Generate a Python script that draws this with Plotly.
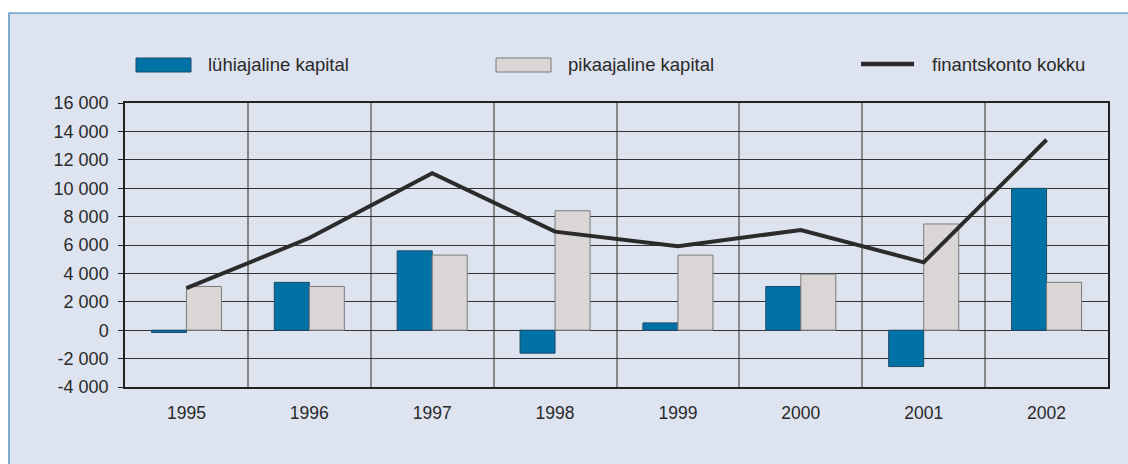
import plotly.graph_objects as go

years = ["1995", "1996", "1997", "1998", "1999", "2000", "2001", "2002"]
luhiajaline = [-160, 3370, 5590, -1620, 515, 3080, -2560, 9990]
pikaajaline = [3080, 3080, 5290, 8410, 5290, 3950, 7480, 3370]
finantskonto = [2960, 6490, 11060, 6940, 5910, 7060, 4780, 13410]

series_names = ["lühiajaline kapital", "pikaajaline kapital", "finantskonto kokku"]
y_tickvals = [-4000, -2000, 0, 2000, 4000, 6000, 8000, 10000, 12000, 14000, 16000]
y_ticktext = ["-4 000", "-2 000", "0", "2 000", "4 000", "6 000", "8 000",
              "10 000", "12 000", "14 000", "16 000"]

W, H = 1128, 464
ML, MR, MT, MB = 125, 20, 103, 77
PW, PH = W - ML - MR, H - MT - MB

def px(x):
    return (x - ML) / PW

def py(y):
    return (H - MB - y) / PH

BLUE = "#0072a6"
BLUE_EDGE = "#1d4d6b"
GREY = "#dad6d5"
GREY_EDGE = "#7a7a7a"
LINE = "#2b2b2b"
TEXT = "#2a2a2a"
PANEL = "#dde3ef"
FONT = "Liberation Sans, Arial, sans-serif"

fig = go.Figure()
fig.add_trace(go.Bar(x=years, y=luhiajaline, name=series_names[0],
                     marker=dict(color=BLUE, line=dict(color=BLUE_EDGE, width=1))))
fig.add_trace(go.Bar(x=years, y=pikaajaline, name=series_names[1],
                     marker=dict(color=GREY, line=dict(color=GREY_EDGE, width=1))))
fig.add_trace(go.Scatter(x=years, y=finantskonto, name=series_names[2], mode="lines",
                         line=dict(color=LINE, width=4)))

shapes = [
    # outer panel
    dict(type="rect", xref="paper", yref="paper", x0=px(9), x1=px(W + 20),
         y0=py(13), y1=py(H + 20), fillcolor=PANEL,
         line=dict(color="#2f7db3", width=1.2), layer="below"),
    # legend swatches
    dict(type="rect", xref="paper", yref="paper", x0=px(136), x1=px(191),
         y0=py(72), y1=py(58), fillcolor=BLUE, line=dict(color=BLUE_EDGE, width=1)),
    dict(type="rect", xref="paper", yref="paper", x0=px(496), x1=px(551),
         y0=py(72), y1=py(58), fillcolor=GREY, line=dict(color=GREY_EDGE, width=1)),
    dict(type="line", xref="paper", yref="paper", x0=px(861), x1=px(914),
         y0=py(64), y1=py(64), line=dict(color=LINE, width=4.5)),
]
annotations = [
    dict(text=series_names[0], xref="paper", yref="paper", x=px(206), y=py(65),
         xanchor="left", yanchor="middle", showarrow=False,
         font=dict(size=18.5, color=TEXT, family=FONT)),
    dict(text=series_names[1], xref="paper", yref="paper", x=px(566), y=py(65),
         xanchor="left", yanchor="middle", showarrow=False,
         font=dict(size=18.5, color=TEXT, family=FONT)),
    dict(text=series_names[2], xref="paper", yref="paper", x=px(930), y=py(65),
         xanchor="left", yanchor="middle", showarrow=False,
         font=dict(size=18.5, color=TEXT, family=FONT)),
]

fig.update_layout(
    width=W, height=H,
    margin=dict(l=ML, r=MR, t=MT, b=MB, pad=0),
    paper_bgcolor="white", plot_bgcolor="white",
    barmode="group", bargap=0.43, bargroupgap=0,
    showlegend=False,
    font=dict(family=FONT, size=17.5, color=TEXT),
    shapes=shapes, annotations=annotations,
)
fig.update_xaxes(type="category", tickson="boundaries", showgrid=True,
                 gridcolor="#888888", gridwidth=1.8,
                 showline=True, linecolor="#222222", linewidth=1.5, mirror=True,
                 ticks="", ticklabelstandoff=9,
                 tickfont=dict(size=17.5, color=TEXT))
fig.update_yaxes(range=[-4000, 16000], tickvals=y_tickvals, ticktext=y_ticktext,
                 showgrid=True, gridcolor="#333333", gridwidth=1,
                 zeroline=False,
                 showline=True, linecolor="#222222", linewidth=1.5, mirror=True,
                 ticks="outside", ticklen=5, tickcolor="#222222",
                 ticklabelstandoff=6,
                 tickfont=dict(size=18, color=TEXT))

fig.write_html("out.html", config={"displayModeBar": False},
               post_script="document.body.style.margin='0';")
